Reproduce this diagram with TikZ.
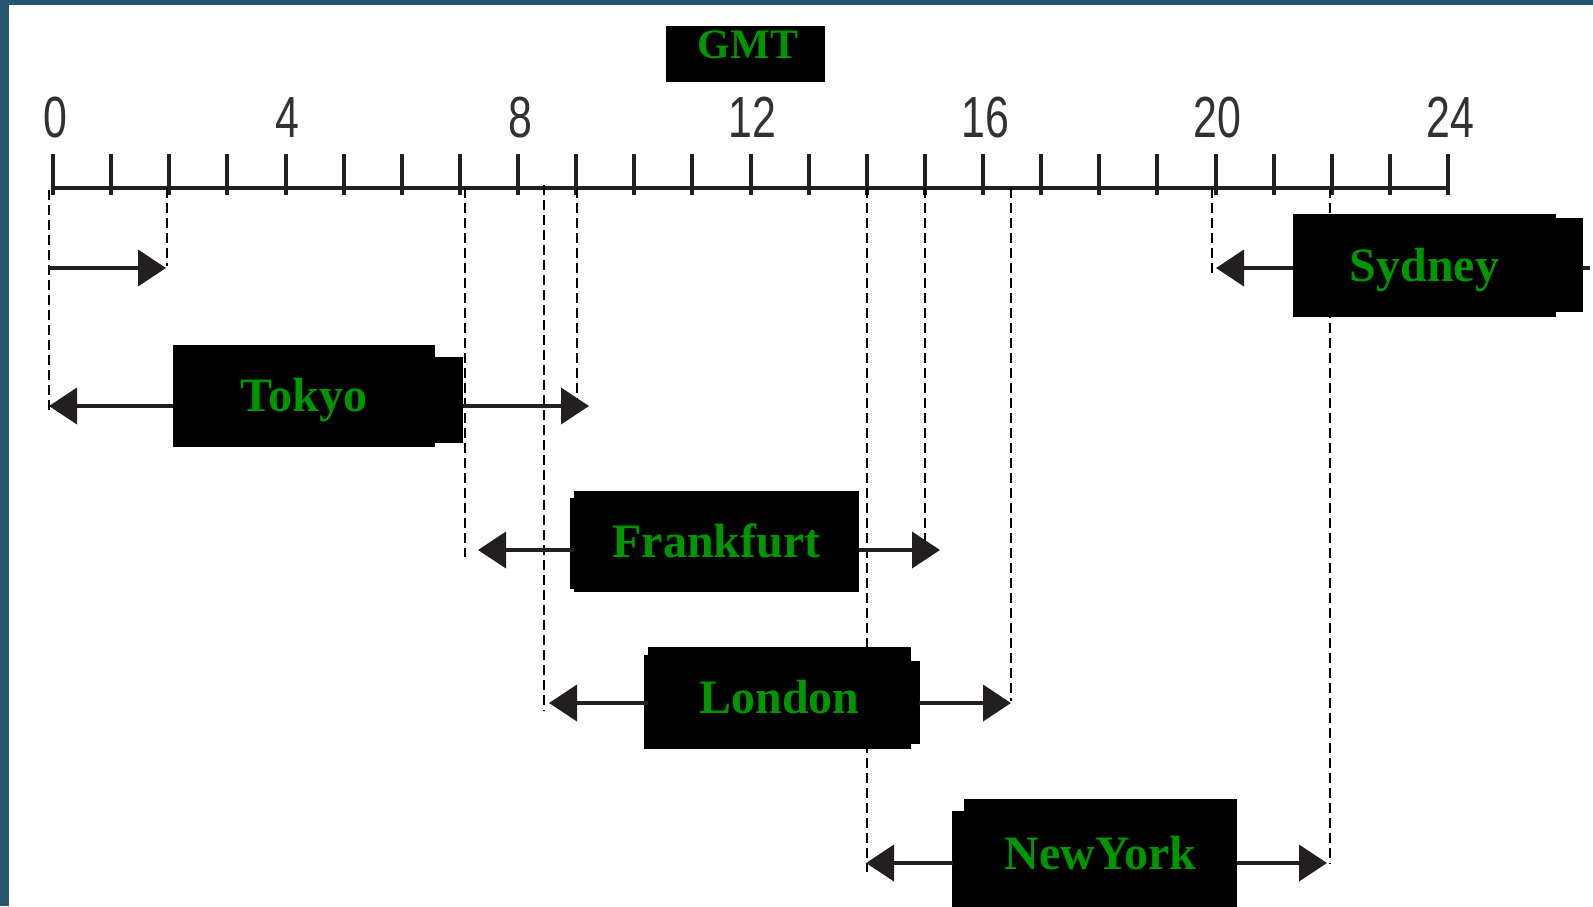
\documentclass[tikz,border=0pt]{standalone}
\usepackage{fontspec}
\setmainfont{Liberation Serif}
\newfontfamily\ticknum[FakeStretch=0.74]{Liberation Sans}
\usetikzlibrary{arrows.meta}
\definecolor{gmtgreen}{RGB}{0,150,0}
\definecolor{frameblue}{RGB}{37,84,110}
\definecolor{inkblack}{RGB}{35,31,32}
\definecolor{numgray}{RGB}{50,50,50}
\begin{document}
\begin{tikzpicture}[x=0.5pt,y=-0.5pt,
  citybox/.style={fill=black, draw=none, inner sep=0pt, text=gmtgreen,
    font=\fontsize{24pt}{24pt}\selectfont\bfseries, text height=15.9pt, text depth=0pt},
  notch/.style={fill=black},
  shaft/.style={line width=2pt, draw=inkblack, -{Triangle[length=14pt,width=18pt]}},
  guide/.style={line width=1.2pt, draw=black, dash pattern=on 5pt off 2.5pt},
  tickmark/.style={line width=2pt, draw=inkblack},
  ticklabel/.style={font=\ticknum\fontsize{29pt}{29pt}\selectfont, text=numgray, anchor=base, inner sep=0pt},
]
\clip (0,0) rectangle (1593,906);
\fill[white] (0,0) rectangle (1593,906);
% frame
\fill[frameblue] (0,0) rectangle (1593,5);
\fill[frameblue] (0,0) rectangle (9,906);

% GMT
\node[fill=black, inner sep=0pt, minimum width=79.5pt, minimum height=28pt] (gmt) at (745.5,54) {};
\node[text=gmtgreen, font=\fontsize{21pt}{21pt}\selectfont\bfseries, anchor=base, inner sep=0pt] (gmtlabel) at (748,58) {GMT};

% axis
\foreach \i in {0,...,24} {
  \coordinate (t\i) at ({53+58.125*\i},188);
  \draw[tickmark] ({53+58.125*\i},154) -- ({53+58.125*\i},195);
}
\draw[line width=2.2pt, draw=inkblack] (t0) -- (t24);
\foreach \i in {0,4,...,24} {
  \node[ticklabel] (lab\i) at ({55+58.125*\i},137) {\i};
}

% guide coordinates
\coordinate (g0a) at (49,190);   \coordinate (g0b) at (49,411);
\coordinate (g2a) at (167,188);  \coordinate (g2b) at (167,266);
\coordinate (g7a) at (465,188);  \coordinate (g7b) at (465,557);
\coordinate (g86a) at (544,185); \coordinate (g86b) at (544,711);
\coordinate (g9a) at (577,188);  \coordinate (g9b) at (577,401);
\coordinate (g14a) at (867,188); \coordinate (g14b) at (867,872);
\coordinate (g15a) at (925,188); \coordinate (g15b) at (925,549);
\coordinate (g165a) at (1011,188); \coordinate (g165b) at (1011,701);
\coordinate (g20a) at (1212,188); \coordinate (g20b) at (1212,274);
\coordinate (g22a) at (1330,188); \coordinate (g22b) at (1330,864);
\foreach \g in {g0,g2,g7,g86,g9,g14,g15,g165,g20,g22} {
  \draw[guide] (\g a) -- (\g b);
}

% arrow tips
\coordinate (r1s) at (49,268);   \coordinate (r1e) at (166,268);
\coordinate (tkL) at (49,406);   \coordinate (tkR) at (589,406);
\coordinate (frL) at (478,550);  \coordinate (frR) at (940,550);
\coordinate (ldL) at (549,703);  \coordinate (ldR) at (1011,703);
\coordinate (nyL) at (866,863);  \coordinate (nyR) at (1327,863);
\coordinate (syL) at (1216,268);

% boxes
\fill[notch] (435,357) rectangle (463,443);
\node[citybox, minimum width=131pt, minimum height=51pt] (tokyo) at (304,396) {Tokyo};

\fill[notch] (570,498) rectangle (575,589);
\node[citybox, minimum width=142.5pt, minimum height=50.5pt] (frankfurt) at (716.5,541.5) {Frankfurt};

\fill[notch] (910,661) rectangle (920,744);
\fill[notch] (644,655) rectangle (649,749);
\node[citybox, minimum width=131.5pt, minimum height=51pt] (london) at (779.5,698) {London};

\fill[notch] (952,811) rectangle (965,910);
\node[citybox, minimum width=136.5pt, minimum height=55pt] (newyork) at (1100.5,854) {NewYork};

\fill[notch] (1555,218) rectangle (1583,312);
\node[citybox, minimum width=131.5pt, minimum height=51.5pt] (sydney) at (1424.5,265.5) {Sydney};
\draw[line width=2pt, draw=inkblack] (1582,268) -- (1590,268);

% arrows
\draw[shaft] (r1s) -- (r1e);
\draw[shaft] (tkL -| tokyo.west) -- (tkL);
\draw[shaft] (463,406) -- (tkR);
\draw[shaft] (frL -| frankfurt.west) -- (frL);
\draw[shaft] (frR -| frankfurt.east) -- (frR);
\draw[shaft] (ldL -| london.west) -- (ldL);
\draw[shaft] (919,703) -- (ldR);
\draw[shaft] (953,863) -- (nyL);
\draw[shaft] (nyR -| newyork.east) -- (nyR);
\draw[shaft] (syL -| sydney.west) -- (syL);
\end{tikzpicture}
\end{document}
